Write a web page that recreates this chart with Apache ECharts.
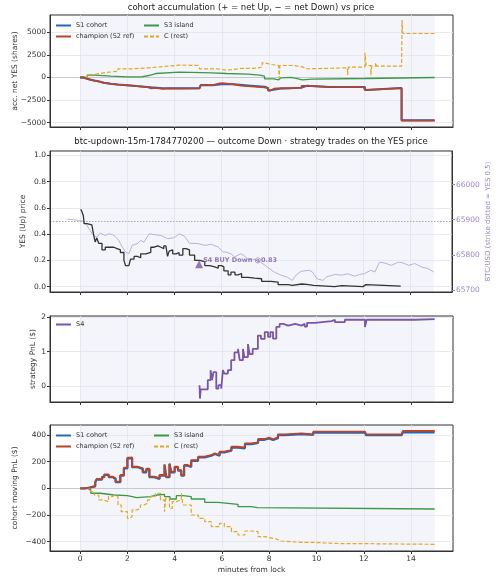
<!DOCTYPE html>
<html>
<head>
<meta charset="utf-8">
<script src="https://cdn.jsdelivr.net/npm/echarts@6/dist/echarts.min.js"></script>
<style>
html, body { margin: 0; padding: 0; background: #fff; }
#main { width: 500px; height: 582px; }
</style>
</head>
<body>
<div id="main"></div>
<script>
// x ticks (minutes from lock)
var minuteTicks = [0, 2, 4, 6, 8, 10, 12, 14];
var accTicks = [-5000, -2500, 0, 2500, 5000];
var priceTicks = [0, 0.2, 0.4, 0.6, 0.8, 1.0];
var btcTicks = [65700, 65800, 65900, 66000];
var s4Ticks = [0, 1, 2];
var pnlTicks = [-400, -200, 0, 200, 400];

// panel 1: accumulated net YES shares, [minute, shares]
var s1Acc = [[0,0],[0.15,-140],[0.3,-240],[0.45,-340],[0.6,-430],[0.8,-580],[1.0,-690],[1.3,-770],[1.6,-850],[2.0,-950],[2.4,-1020],[2.7,-1090],[3.0,-1200],[3.5,-1190],[4.2,-1190],[5.05,-1170],[5.1,-860],[5.6,-760],[6.0,-760],[6.5,-880],[7.1,-1020],[7.8,-1160],[7.95,-1420],[8.05,-1230],[8.5,-1160],[9.1,-1120],[9.37,-910],[9.6,-1040],[10.5,-1050],[12.05,-1380],[12.1,-1170],[13.6,-4740],[15,-4740]];
var champAcc = [[0,0],[0.15,-150],[0.3,-250],[0.45,-350],[0.6,-450],[0.8,-600],[1.0,-700],[1.3,-780],[1.6,-860],[2.0,-960],[2.4,-1030],[2.7,-1100],[2.9,-1200],[3.0,-1150],[3.2,-1250],[3.5,-1200],[3.8,-1230],[4.2,-1200],[5.05,-1180],[5.1,-820],[5.4,-850],[5.6,-720],[5.8,-620],[6.0,-760],[6.5,-890],[6.8,-950],[7.1,-1030],[7.5,-1100],[7.8,-1180],[7.95,-1440],[8.05,-1240],[8.2,-1180],[8.5,-1200],[8.8,-1150],[9.1,-1150],[9.37,-920],[9.6,-1040],[10.5,-1070],[12.0,-1070],[12.05,-1400],[12.1,-1180],[13.6,-4760],[15,-4760]];
var s3Acc = [[0,0],[0.3,260],[0.6,150],[1.3,75],[2.0,75],[2.6,220],[2.9,440],[3.2,590],[4.2,550],[5.15,520],[5.55,440],[6.2,370],[7.1,260],[7.6,150],[7.8,-150],[8.2,-260],[8.4,-40],[8.5,10],[8.9,-75],[9.1,-260],[9.4,-185],[9.8,-110],[12.05,-110],[12.1,0],[15,0]];
var cRestAcc = [[0,0],[0.3,330],[0.6,520],[1.0,700],[1.6,960],[2.2,1070],[2.9,1250],[3.7,1370],[4.2,1330],[5.0,1290],[5.05,960],[5.8,810],[6.2,1000],[6.8,1030],[7.5,1180],[7.7,1620],[7.8,1440],[8.1,1330],[8.4,1250],[8.42,-100],[8.45,1330],[9.05,1180],[9.4,960],[9.6,1070],[11.3,1140],[11.32,260],[11.35,1140],[11.95,1180],[12.05,2730],[12.1,1330],[12.3,260],[12.33,1250],[12.5,1620],[12.55,1250],[13.6,1250],[13.62,6350],[13.65,4870],[15,4870]];

// panel 2: YES price and BTC/USD, [minute, value]
var yesPrice = [[0.03,0.59],[0.08,0.57],[0.14,0.54],[0.17,0.48],[0.29,0.48],[0.36,0.47],[0.5,0.46],[0.57,0.40],[0.64,0.34],[0.71,0.37],[0.79,0.33],[0.93,0.28],[1.07,0.30],[1.29,0.30],[1.43,0.29],[1.57,0.28],[1.71,0.26],[1.86,0.20],[1.93,0.16],[2.07,0.16],[2.14,0.21],[2.29,0.23],[2.43,0.22],[2.57,0.25],[2.79,0.26],[3.0,0.30],[3.14,0.31],[3.3,0.30],[3.43,0.29],[3.55,0.31],[3.64,0.30],[3.71,0.23],[3.78,0.27],[3.86,0.28],[3.93,0.25],[4.07,0.26],[4.2,0.24],[4.36,0.29],[4.5,0.28],[4.64,0.24],[4.86,0.20],[5.07,0.19],[5.29,0.16],[5.5,0.15],[5.71,0.14],[5.86,0.16],[6.0,0.15],[6.1,0.12],[6.28,0.09],[6.4,0.11],[6.57,0.09],[6.7,0.10],[6.85,0.07],[7.13,0.065],[7.41,0.06],[7.7,0.04],[8.1,0.035],[8.4,0.015],[8.83,0.01],[9.0,0.02],[9.4,0.015],[9.7,0.01],[9.9,0.0],[10.8,0.008],[11.1,0.0],[12.0,0.0],[12.05,0.015],[12.12,0.003],[13.6,0.0]];
var btcUsd = [[-0.57,65902],[-0.29,65900],[-0.07,65898],[0.0,65893],[0.14,65896],[0.29,65884],[0.43,65869],[0.57,65855],[0.71,65850],[0.86,65862],[1.07,65855],[1.21,65860],[1.36,65858],[1.5,65852],[1.64,65841],[1.79,65822],[1.93,65808],[2.07,65803],[2.21,65827],[2.43,65832],[2.57,65841],[2.71,65836],[2.93,65860],[3.21,65857],[3.43,65855],[3.71,65846],[4.0,65849],[4.21,65860],[4.43,65853],[4.64,65833],[5.0,65832],[5.29,65827],[5.57,65830],[5.86,65822],[6.07,65808],[6.18,65808],[6.4,65803],[6.55,65794],[6.82,65803],[6.95,65798],[7.1,65789],[7.38,65787],[7.66,65779],[7.95,65765],[8.23,65751],[8.52,65742],[8.8,65736],[9.0,65727],[9.16,65742],[9.37,65753],[9.72,65756],[9.86,65751],[10.04,65732],[10.3,65727],[10.45,65737],[10.8,65744],[11.1,65742],[11.36,65746],[11.64,65739],[11.85,65744],[12.05,65746],[12.33,65756],[12.5,65751],[12.7,65779],[12.9,65777],[13.2,65770],[13.5,65779],[13.7,65777],[13.93,65770],[14.2,65775],[14.5,65765],[14.75,65761],[15.0,65751]];
var strikeYes = 0.5;
var buyMinute = 5.05;
var buyYesPrice = 0.17;
var buyLabel = 'S4 BUY Down @0.83';

// panel 3: S4 strategy PnL, [minute, $]
var s4Pnl = [[5.05,0.02],[5.07,-0.37],[5.1,-0.1],[5.4,0.17],[5.52,0.46],[5.58,0.17],[5.64,0.4],[5.76,-0.08],[5.85,0.02],[5.97,-0.08],[6.04,0.46],[6.1,0.36],[6.25,0.46],[6.39,0.75],[6.53,0.98],[6.68,1.08],[6.75,0.75],[6.89,1.08],[6.95,0.84],[7.1,1.22],[7.17,0.93],[7.3,1.08],[7.52,1.47],[7.65,1.37],[7.81,1.57],[7.95,1.43],[8.05,1.57],[8.16,1.38],[8.3,1.72],[8.44,1.81],[8.6,1.76],[8.8,1.81],[9.1,1.76],[9.36,1.81],[9.5,1.73],[9.6,1.84],[9.93,1.89],[10.64,1.93],[10.78,1.86],[11.2,1.93],[12.05,1.72],[12.12,1.93],[14.17,1.95],[15.0,1.95]];

// panel 4: cohort moving PnL, [minute, $]
var s1Pnl = [[0,0],[0.21,6],[0.43,15],[0.64,46],[0.7,66],[0.93,84],[1.02,100],[1.21,84],[1.37,70],[1.5,46],[1.7,96],[1.85,150],[2.0,224],[2.1,226],[2.2,158],[2.43,146],[2.65,120],[2.8,142],[2.93,84],[3.14,70],[3.36,96],[3.57,176],[3.64,84],[3.78,182],[3.85,120],[4.0,158],[4.14,132],[4.28,96],[4.4,170],[4.55,160],[4.7,206],[4.99,232],[5.27,245],[5.55,258],[5.7,245],[5.9,270],[6.1,282],[6.4,306],[6.68,300],[6.97,332],[7.25,340],[7.53,364],[7.8,374],[8.0,362],[8.16,376],[8.37,398],[8.66,406],[9.37,400],[9.86,418],[12.05,418],[12.1,398],[13.6,398],[13.65,420],[15,420]];
var champPnl = [[0,0],[0.21,8],[0.43,18],[0.64,50],[0.7,70],[0.93,88],[1.02,105],[1.21,88],[1.37,75],[1.5,50],[1.7,100],[1.85,155],[2.0,230],[2.1,232],[2.2,162],[2.43,150],[2.65,125],[2.8,148],[2.93,88],[3.14,75],[3.36,100],[3.57,180],[3.64,88],[3.78,187],[3.85,125],[4.0,162],[4.14,137],[4.28,100],[4.4,175],[4.55,165],[4.7,212],[4.99,237],[5.27,250],[5.55,262],[5.7,250],[5.9,275],[6.1,287],[6.4,312],[6.68,305],[6.97,337],[7.25,345],[7.53,370],[7.8,380],[8.0,368],[8.16,382],[8.37,405],[8.66,412],[9.37,405],[9.86,425],[12.05,425],[12.1,405],[13.6,405],[13.65,430],[15,430]];
var s3Pnl = [[0,0],[0.3,-12],[0.45,-37],[0.86,-50],[1.43,-55],[2.0,-70],[2.4,-62],[2.97,-50],[3.26,-45],[3.57,-62],[3.8,-80],[4.07,-55],[4.36,-62],[4.7,-80],[5.27,-105],[5.84,-120],[6.68,-137],[7.24,-145],[7.5,-155],[15,-155]];
var cRestPnl = [[0,0],[0.43,-25],[0.6,-50],[0.79,-87],[1.0,-100],[1.2,-62],[1.35,-50],[1.5,-62],[1.6,-125],[1.74,-175],[2.0,-225],[2.1,-212],[2.2,-162],[2.4,-150],[2.55,-125],[2.7,-112],[2.85,-87],[2.97,-62],[3.18,-37],[3.4,-87],[3.57,-175],[3.62,-75],[3.78,-150],[3.9,-100],[4.07,-87],[4.28,-37],[4.35,-125],[4.7,-200],[5.0,-225],[5.27,-250],[5.55,-287],[5.9,-262],[6.1,-287],[6.4,-325],[6.68,-350],[6.97,-320],[7.25,-325],[7.53,-362],[7.8,-370],[8.0,-380],[8.3,-395],[8.5,-405],[9.37,-405],[9.8,-415],[11.07,-415],[12.05,-400],[12.1,-420],[15,-420]];

var S1 = 'S1 cohort', CH = 'champion (S2 ref)', S3 = 'S3 island', CR = 'C (rest)';
var cBlue = '#2266c0', cChamp = '#b5452b', cGreen = '#3b9946', cOrange = '#e3a722', cPurple = '#7b55a8';

function minus(v) { return String(v).replace('-', '\u2212'); }

var tickFont = { fontSize: 7.5, color: '#333', fontFamily: 'DejaVu Sans' };
var nameFont = { fontSize: 7.5, color: '#333', fontFamily: 'DejaVu Sans' };
var grids = [
    { left: 50, right: 47, top: 15, height: 112 },
    { left: 50, right: 47, top: 151, height: 141 },
    { left: 50, right: 47, top: 316, height: 86 },
    { left: 50, right: 47, top: 425, height: 126 }
];
grids.forEach(function(g) {
    g.show = true;
    g.borderColor = '#333';
    g.borderWidth = 1;
    g.backgroundColor = 'transparent';
});

function xAxisFor(i, labels) {
    var ax = {
        type: 'value', gridIndex: i, min: -1.275, max: 15.775,
        axisLine: { show: true, onZero: false, lineStyle: { color: '#333' } },
        axisTick: { show: true, length: 3, lineStyle: { color: '#333' }, customValues: minuteTicks },
        axisLabel: Object.assign({ show: labels, margin: 4, customValues: minuteTicks }, tickFont),
        splitLine: { show: false }
    };
    if (labels) {
        ax.name = 'minutes from lock';
        ax.nameLocation = 'middle';
        ax.nameGap = 15;
        ax.nameMoveOverlap = false;
        ax.nameTextStyle = nameFont;
    }
    return ax;
}

function yAxisFor(i, min, max, ticks, name, gap, fmt) {
    return {
        type: 'value', gridIndex: i, min: min, max: max,
        name: name, nameLocation: 'middle', nameRotate: 90, nameGap: gap, nameMoveOverlap: false,
        nameTextStyle: nameFont,
        axisLine: { show: true, onZero: false, lineStyle: { color: '#333' } },
        axisTick: { show: true, length: 3, lineStyle: { color: '#333' }, customValues: ticks },
        axisLabel: Object.assign({ margin: 4, customValues: ticks, formatter: fmt || minus }, tickFont),
        splitLine: { show: false }
    };
}

// light shaded span 0..15, faint grid lines at the ticks, plus reference lines
var gridLineStyle = { color: '#e3e5ec', width: 0.8, type: 'solid' };
function backdrop(i, yAx, yTicks, refs) {
    var lines = minuteTicks.map(function(t) { return { xAxis: t, lineStyle: gridLineStyle }; })
        .concat(yTicks.map(function(v) { return { yAxis: v, lineStyle: gridLineStyle }; }))
        .concat(refs || []);
    return {
        type: 'line', xAxisIndex: i, yAxisIndex: yAx, data: [], z: -1, silent: true, symbol: 'none',
        markArea: { z: -1, silent: true, itemStyle: { color: '#f3f5fa' }, data: [[{ xAxis: 0 }, { xAxis: 15 }]] },
        markLine: { z: 0, silent: true, symbol: 'none', animation: false, label: { show: false }, data: lines }
    };
}

function stepLine(name, data, i, yAx, color, width, dashed, z) {
    return {
        name: name, type: 'line', step: 'end', xAxisIndex: i, yAxisIndex: yAx, data: data,
        symbol: 'none', z: z || 3, animation: false,
        lineStyle: { color: color, width: width, type: dashed ? [4, 2] : 'solid' },
        itemStyle: { color: color }
    };
}

var legendText = { fontSize: 6.5, color: '#333', fontFamily: 'DejaVu Sans' };
function legendAt(names, left, top) {
    return {
        data: names, orient: 'vertical', left: left, top: top, itemWidth: 15, itemHeight: 6,
        itemGap: 4, itemStyle: { opacity: 0 }, textStyle: legendText, selectedMode: false, padding: 0
    };
}

var myChart = echarts.init(document.getElementById('main'));

var titleStyle = { fontSize: 8.5, fontWeight: 'normal', color: '#222', fontFamily: 'DejaVu Sans' };
var option = {
    animation: false,
    backgroundColor: '#fff',
    title: [
        { text: 'cohort accumulation (+ = net Up, \u2212 = net Down) vs price', left: 251, top: 3, padding: 0,
          textAlign: 'center', textStyle: titleStyle },
        { text: 'btc-updown-15m-1784770200 \u2014 outcome Down \u00b7 strategy trades on the YES price', left: 251, top: 137,
          padding: 0, textAlign: 'center', textStyle: titleStyle }
    ],
    legend: [
        legendAt([S1, CH], 55, 22),
        legendAt([S3, CR], 143, 22),
        legendAt(['S4'], 55, 321),
        legendAt([S1, CH], 55, 432),
        legendAt([S3, CR], 153, 432)
    ],
    grid: grids,
    xAxis: [xAxisFor(0, false), xAxisFor(1, false), xAxisFor(2, false), xAxisFor(3, true)],
    yAxis: [
        yAxisFor(0, -5476, 6914, accTicks, 'acc. net YES (shares)', 31),
        yAxisFor(1, -0.041, 1.033, priceTicks, 'YES (Up) price', 23, function(v) { return v.toFixed(1); }),
        {
            type: 'value', gridIndex: 1, position: 'right', min: 65694, max: 66096,
            name: 'BTC/USD (strike dotted = YES 0.5)', nameLocation: 'middle', nameRotate: 90, nameGap: 33,
            nameMoveOverlap: false,
            nameTextStyle: { fontSize: 7, color: '#9b85c6', fontFamily: 'DejaVu Sans' },
            axisLine: { show: true, onZero: false, lineStyle: { color: '#333' } },
            axisTick: { show: true, length: 3, lineStyle: { color: '#9b85c6' }, customValues: btcTicks },
            axisLabel: { margin: 4, customValues: btcTicks, fontSize: 7.5, color: '#9b85c6', fontFamily: 'DejaVu Sans',
                         formatter: function(v) { return String(v); } },
            splitLine: { show: false }
        },
        yAxisFor(2, -0.47, 2.04, s4Ticks, 'strategy PnL ($)', 13),
        yAxisFor(3, -470, 475, pnlTicks, 'cohort moving PnL ($)', 31)
    ],
    series: [
        backdrop(0, 0, accTicks, [{ yAxis: 0, lineStyle: { color: '#c8c9cf', width: 1, type: 'solid' } }]),
        backdrop(1, 1, priceTicks, [{ yAxis: strikeYes, lineStyle: { color: '#a8a8a8', width: 1, type: [1.5, 1.5] } }]),
        backdrop(2, 3, s4Ticks, []),
        backdrop(3, 4, pnlTicks, [{ yAxis: 0, lineStyle: { color: '#c8c9cf', width: 1, type: 'solid' } }]),

        stepLine(S1, s1Acc, 0, 0, cBlue, 2, false, 3),
        stepLine(S3, s3Acc, 0, 0, cGreen, 1.3, false, 4),
        stepLine(CR, cRestAcc, 0, 0, cOrange, 1.2, true, 5),
        stepLine(CH, champAcc, 0, 0, cChamp, 1.8, false, 6),

        {
            type: 'line', xAxisIndex: 1, yAxisIndex: 2, data: btcUsd, symbol: 'none', z: 3,
            lineStyle: { color: '#b9a6da', width: 0.9 }
        },
        stepLine('yes', yesPrice, 1, 1, '#333333', 1.3, false, 4),
        {
            type: 'scatter', xAxisIndex: 1, yAxisIndex: 1, data: [[buyMinute, buyYesPrice]], z: 6,
            symbol: 'triangle', symbolSize: 8, itemStyle: { color: cPurple },
            label: {
                show: true, position: 'right', distance: 0, offset: [0, -4], formatter: buyLabel,
                fontSize: 6.5, fontWeight: 'bold', color: cPurple, fontFamily: 'DejaVu Sans'
            }
        },

        stepLine('S4', s4Pnl, 2, 3, cPurple, 1.8, false, 4),

        stepLine(S1, s1Pnl, 3, 4, cBlue, 2.2, false, 3),
        stepLine(S3, s3Pnl, 3, 4, cGreen, 1.3, false, 4),
        stepLine(CR, cRestPnl, 3, 4, cOrange, 1.2, true, 5),
        stepLine(CH, champPnl, 3, 4, cChamp, 1.8, false, 6)
    ]
};

myChart.setOption(option);
</script>
</body>
</html>
